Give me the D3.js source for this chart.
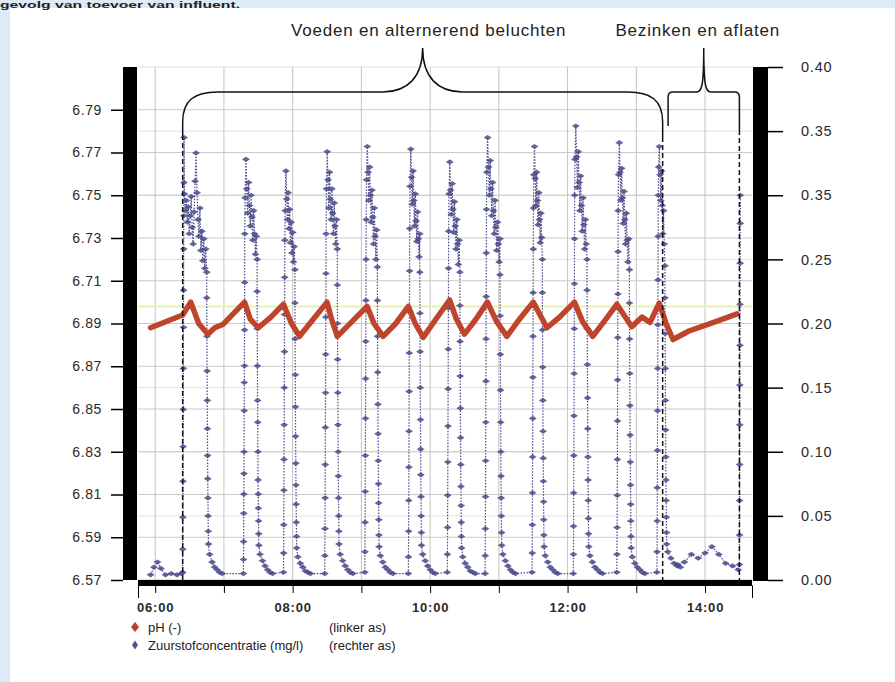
<!DOCTYPE html>
<html>
<head>
<meta charset="utf-8">
<script src="https://cdn.jsdelivr.net/npm/d3@7"></script>
<style>
  body { margin: 0; background: #dcebf7; }
  svg { display: block; font-family: "Liberation Sans", Arial, sans-serif; }
  .tick text { fill: #2a2a2a; }
</style>
</head>
<body>
<div id="chart"></div>
<script>
// ---- data ----
// pH (left axis)
const phTimes = ["05:56","06:24","06:31","06:38","06:46","06:52","06:59","07:18","07:23","07:30","07:41","07:52","07:59","08:06","08:18","08:30","08:34","08:39","08:52","09:05","09:11","09:19","09:30","09:41","09:47","09:54","10:05","10:17","10:23","10:30","10:40","10:50","10:58","11:07","11:18","11:30","11:36","11:42","11:53","12:06","12:13","12:22","12:32","12:43","12:56","13:05","13:12","13:20","13:26","13:32","13:46","14:10","14:28"];
const phValues = [6.688,6.694,6.700,6.690,6.685,6.688,6.6895,6.700,6.692,6.688,6.693,6.699,6.690,6.684,6.692,6.700,6.692,6.684,6.691,6.698,6.690,6.684,6.690,6.698,6.690,6.6835,6.692,6.701,6.692,6.685,6.692,6.700,6.691,6.684,6.692,6.700,6.694,6.688,6.693,6.700,6.691,6.684,6.691,6.699,6.6885,6.693,6.6905,6.6995,6.690,6.6825,6.6865,6.691,6.6945];

// oxygen (right axis): aeration cycles, start and stop of aeration
const o2Start = ["06:24","07:17","07:52","08:28","09:03","09:41","10:15","10:48","11:29","12:05","12:43","13:18"];
const o2Stop  = ["06:45","07:29","08:02","08:39","09:14","09:51","10:26","11:01","11:38","12:17","12:54","13:25"];
// logged values while rising, during aeration, while falling and the tail afterwards
const o2Rise = [
  [0.006,0.024,0.049,0.077,0.104,0.133,0.165,0.197,0.226,0.258,0.284,0.31,0.345],
  [0.005,0.016,0.03,0.052,0.067,0.083,0.1,0.132,0.154,0.167,0.195,0.232,0.27],
  [0.006,0.021,0.043,0.07,0.094,0.121,0.15,0.178,0.207,0.236,0.265],
  [0.005,0.019,0.04,0.064,0.09,0.119,0.146,0.176,0.205,0.239,0.27],
  [0.006,0.022,0.045,0.069,0.097,0.126,0.157,0.186,0.218,0.25,0.281],
  [0.005,0.018,0.038,0.062,0.088,0.116,0.147,0.177,0.209,0.241,0.274],
  [0.006,0.02,0.041,0.066,0.092,0.12,0.149,0.18,0.212,0.243,0.272],
  [0.005,0.019,0.04,0.065,0.093,0.123,0.155,0.188,0.221,0.255,0.289],
  [0.006,0.021,0.043,0.068,0.096,0.126,0.158,0.19,0.224,0.258,0.29],
  [0.005,0.02,0.042,0.068,0.097,0.128,0.161,0.196,0.231,0.266,0.3],
  [0.006,0.02,0.041,0.066,0.094,0.124,0.156,0.189,0.223,0.256,0.288],
  [0.006,0.022,0.046,0.072,0.101,0.132,0.165,0.199,0.234,0.268,0.3]
];
const o2Aer = [
  [0.301,0.288,0.296,0.279,0.291,0.27,0.284,0.299,0.275,0.262,0.287,0.311,0.333,0.302,0.281,0.268,0.29,0.257,0.272,0.249,0.266,0.243,0.258,0.24],
  [0.298,0.328,0.305,0.286,0.31,0.292,0.276,0.3,0.283,0.265,0.288,0.27,0.254,0.268,0.25],
  [0.288,0.319,0.297,0.281,0.302,0.274,0.289,0.263,0.279,0.255,0.271,0.248,0.26,0.242],
  [0.305,0.334,0.312,0.29,0.318,0.297,0.281,0.305,0.286,0.27,0.294,0.276,0.262,0.281,0.258],
  [0.312,0.338,0.318,0.296,0.322,0.3,0.279,0.304,0.283,0.262,0.29,0.268,0.25,0.273,0.244],
  [0.307,0.336,0.314,0.293,0.319,0.296,0.276,0.301,0.28,0.264,0.287,0.266,0.252,0.27],
  [0.301,0.326,0.304,0.285,0.309,0.289,0.271,0.295,0.276,0.258,0.281,0.262,0.246,0.265,0.24],
  [0.318,0.345,0.322,0.3,0.327,0.305,0.284,0.31,0.288,0.27,0.296,0.275,0.257,0.279,0.262,0.248,0.266],
  [0.316,0.338,0.313,0.292,0.318,0.296,0.277,0.302,0.281,0.263,0.286,0.267,0.25],
  [0.328,0.354,0.33,0.306,0.334,0.31,0.288,0.315,0.292,0.272,0.298,0.277,0.258,0.281,0.262,0.25],
  [0.316,0.341,0.318,0.296,0.321,0.298,0.278,0.303,0.281,0.262,0.286,0.265,0.248,0.266,0.242],
  [0.322,0.338,0.316,0.296,0.319,0.292,0.27,0.288,0.262,0.245]
];
const o2Fall = [
  [0.22,0.19,0.163,0.14,0.118,0.097,0.079,0.064,0.05,0.038,0.028],
  [0.225,0.196,0.167,0.14,0.123,0.1,0.078,0.067,0.056,0.046,0.036,0.027],
  [0.216,0.188,0.16,0.135,0.112,0.091,0.074,0.059,0.045,0.034,0.025],
  [0.23,0.2,0.172,0.146,0.121,0.1,0.081,0.064,0.05,0.038,0.028],
  [0.218,0.19,0.162,0.137,0.114,0.093,0.075,0.06,0.047,0.035,0.026],
  [0.24,0.208,0.178,0.15,0.125,0.102,0.082,0.065,0.05,0.037,0.027],
  [0.214,0.186,0.159,0.134,0.111,0.09,0.073,0.058,0.045,0.034,0.025],
  [0.238,0.206,0.176,0.148,0.123,0.1,0.081,0.064,0.05,0.037,0.027],
  [0.224,0.195,0.166,0.14,0.116,0.095,0.077,0.061,0.047,0.035,0.026],
  [0.226,0.196,0.168,0.142,0.118,0.096,0.078,0.062,0.048,0.036,0.026],
  [0.216,0.188,0.161,0.136,0.113,0.092,0.074,0.059,0.046,0.034,0.025],
  [0.22,0.192,0.165,0.14,0.117,0.096,0.078,0.062,0.049,0.037,0.028]
];
const o2Tail = [
  [0.02,0.014,0.01,0.008,0.006,0.005],
  [0.02,0.015,0.011,0.008,0.006,0.005],
  [0.018,0.013,0.01,0.007,0.006,0.005],
  [0.02,0.015,0.011,0.008,0.006,0.005],
  [0.019,0.014,0.01,0.008,0.006,0.005],
  [0.02,0.015,0.011,0.008,0.006,0.005],
  [0.018,0.013,0.01,0.007,0.006,0.005],
  [0.02,0.015,0.011,0.008,0.006,0.005],
  [0.019,0.014,0.01,0.008,0.006,0.005],
  [0.019,0.014,0.01,0.008,0.006,0.005],
  [0.018,0.013,0.01,0.008,0.006,0.005],
  [0.022,0.017,0.013,0.011,0.01]
];
// before the first cycle and during settling
const o2PreTimes = ["05:56","05:59","06:02","06:05","06:09","06:14","06:19","06:23"];
const o2PreValues = [0.004,0.01,0.014,0.009,0.004,0.005,0.004,0.005];
const o2PostTimes = ["13:36","13:42","13:48","13:54","14:00","14:06","14:12","14:18","14:24","14:29"];
const o2PostValues = [0.012,0.014,0.02,0.017,0.021,0.026,0.02,0.013,0.011,0.008];
const o2EndRiseTime = "14:30";
const o2EndRise = [0.012,0.035,0.062,0.09,0.121,0.152,0.183,0.215,0.247,0.278,0.3];

// axes
const timeDomain = ["05:45","14:41"];
const phDomain = [6.57, 6.81];
const phTicks = [6.57,6.59,6.61,6.63,6.65,6.67,6.69,6.71,6.73,6.75,6.77,6.79];
const phTickLabels = ["6.57","6.59","6.81","6.83","6.85","6.87","6.89","6.71","6.73","6.75","6.77","6.79"];
const o2Domain = [0, 0.40];
const o2Ticks = [0,0.05,0.10,0.15,0.20,0.25,0.30,0.35,0.40];
const o2TickLabels = ["0.00","0.05","0.10","0.15","0.20","0.25","0.35","0.35","0.40"];
const phRefLine = 6.698;

// phases (annotation braces)
const phases = [
  { label: "Voeden en alternerend beluchten", from: "06:24", to: "13:23" },
  { label: "Bezinken en aflaten", from: "13:26", to: "14:30" }
];
const legendItems = [
  { name: "pH (-)", axis: "(linker as)", color: "#bb3f2c" },
  { name: "Zuurstofconcentratie (mg/l)", axis: "(rechter as)", color: "#55548f" }
];

// ---- drawing ----
const width = 895, height = 682;
const parseTime = d3.timeParse("%H:%M");
const addMin = (d, m) => new Date(d.getTime() + m * 60000);

const svg = d3.select('#chart').append('svg')
    .attr('width', width)
    .attr('height', height);

svg.append('rect').attr('width', width).attr('height', height).attr('fill', '#dcebf7');
svg.append('rect').attr('x', 10).attr('y', 8).attr('width', width - 10).attr('height', height - 8).attr('fill', '#ffffff');

// caption left over from the page above
svg.append('text')
    .attr('x', 0).attr('y', 7.5)
    .attr('font-size', 9.5).attr('font-weight', 'bold').attr('fill', '#222')
    .attr('textLength', 240).attr('lengthAdjust', 'spacingAndGlyphs')
    .text('gevolg van toevoer van influent.');

const plotLeft = 138, plotRight = 752, plotTop = 67, plotBottom = 580;

const x = d3.scaleTime().domain(timeDomain.map(parseTime)).range([plotLeft, plotRight]);
const yPh = d3.scaleLinear().domain(phDomain).range([plotBottom, plotTop]);
const yO2 = d3.scaleLinear().domain(o2Domain).range([plotBottom, plotTop]);

// grid
const grid = svg.append('g');
grid.selectAll('.gr').data(o2Ticks).join('line')
    .attr('x1', plotLeft).attr('x2', plotRight)
    .attr('y1', d => yO2(d)).attr('y2', d => yO2(d))
    .attr('stroke', '#e2e2e2').attr('stroke-width', 1);
grid.selectAll('.gl').data(phTicks).join('line')
    .attr('x1', plotLeft).attr('x2', plotRight)
    .attr('y1', d => yPh(d)).attr('y2', d => yPh(d))
    .attr('stroke', '#c9c9c9').attr('stroke-width', 1);
grid.selectAll('.gv').data(x.ticks(d3.timeHour.every(1))).join('line')
    .attr('x1', d => x(d)).attr('x2', d => x(d))
    .attr('y1', plotTop).attr('y2', plotBottom)
    .attr('stroke', '#c4c4c4').attr('stroke-width', 1);
grid.append('line')
    .attr('x1', plotLeft).attr('x2', plotRight)
    .attr('y1', yPh(phRefLine)).attr('y2', yPh(phRefLine))
    .attr('stroke', '#e9f0b4').attr('stroke-width', 2);

// oxygen points
const o2Points = [];
o2PreTimes.forEach((t, i) => o2Points.push({ t: parseTime(t), v: o2PreValues[i] }));
o2Start.forEach((s, c) => {
    const start = parseTime(s), stop = parseTime(o2Stop[c]);
    const aerLen = (stop - start) / 60000 - 1.5;
    o2Rise[c].forEach((v, i) => o2Points.push({ t: addMin(start, 1.2 * i / (o2Rise[c].length - 1)), v }));
    o2Aer[c].forEach((v, i) => o2Points.push({ t: addMin(start, 1.5 + aerLen * i / (o2Aer[c].length - 1)), v }));
    o2Fall[c].forEach((v, i) => o2Points.push({ t: addMin(stop, 1.5 * i / (o2Fall[c].length - 1)), v }));
    o2Tail[c].forEach((v, i) => o2Points.push({ t: addMin(stop, 2.5 + 11 * i / (o2Tail[c].length - 1)), v }));
});
o2PostTimes.forEach((t, i) => o2Points.push({ t: parseTime(t), v: o2PostValues[i] }));
o2EndRise.forEach((v, i) => o2Points.push({ t: addMin(parseTime(o2EndRiseTime), 0.8 * i / (o2EndRise.length - 1)), v }));

const o2Color = '#4b4a8a';
const o2Line = d3.line().x(d => x(d.t)).y(d => yO2(d.v));
svg.append('path')
    .datum(o2Points)
    .attr('d', o2Line)
    .attr('fill', 'none')
    .attr('stroke', o2Color)
    .attr('stroke-width', 1.2)
    .attr('stroke-dasharray', '1.5,1.5');
svg.append('g').selectAll('path').data(o2Points).join('path')
    .attr('d', 'M-4,0L0,-2.6L4,0L0,2.6Z')
    .attr('transform', d => `translate(${x(d.t)},${yO2(d.v)})`)
    .attr('fill', o2Color)
    .attr('opacity', 0.85);

// pH line
const phData = phTimes.map((t, i) => ({ t: parseTime(t), v: phValues[i] }));
svg.append('path')
    .datum(phData)
    .attr('d', d3.line().x(d => x(d.t)).y(d => yPh(d.v)))
    .attr('fill', 'none')
    .attr('stroke', '#bf442c')
    .attr('stroke-width', 5.5)
    .attr('stroke-linejoin', 'round')
    .attr('stroke-linecap', 'round');

// phase braces and dashed separators
const braceY = 92, tipY = 48;
const ann = svg.append('g').attr('fill', 'none').attr('stroke', '#111').attr('stroke-width', 1.5);
const xa = x(parseTime(phases[0].from)), xb = x(parseTime(phases[0].to)), xm = (xa + xb) / 2;
ann.append('path').attr('d',
    `M${xa},135 L${xa},${braceY + 30} C${xa},${braceY + 8} ${xa + 12},${braceY} ${xa + 35},${braceY}` +
    ` L${xm - 40},${braceY} C${xm - 15},${braceY} ${xm},${braceY - 15} ${xm},${tipY}` +
    ` C${xm},${braceY - 15} ${xm + 15},${braceY} ${xm + 40},${braceY}` +
    ` L${xb - 35},${braceY} C${xb - 12},${braceY} ${xb},${braceY + 8} ${xb},${braceY + 30} L${xb},137`);
const xc = x(parseTime(phases[1].from)) + 2, xd = x(parseTime(phases[1].to)), xn = (xc + xd) / 2;
ann.append('path').attr('d',
    `M${xc},126 L${xc},${braceY + 5} Q${xc},${braceY} ${xc + 5},${braceY}` +
    ` L${xn - 7},${braceY} C${xn - 2},${braceY} ${xn},${braceY - 6} ${xn},${tipY}` +
    ` C${xn},${braceY - 6} ${xn + 2},${braceY} ${xn + 7},${braceY}` +
    ` L${xd - 5},${braceY} Q${xd},${braceY} ${xd},${braceY + 5} L${xd},130`);
[[xa, 135], [xb, 137], [xd, 130]].forEach(([px, top]) => {
    ann.append('line').attr('x1', px).attr('x2', px).attr('y1', top).attr('y2', plotBottom)
        .attr('stroke-dasharray', '5,3');
});
phases.forEach((p, i) => {
    const cx = i === 0 ? xm + 6 : xn - 6;
    svg.append('text')
        .attr('x', cx).attr('y', 36)
        .attr('text-anchor', 'middle')
        .attr('font-size', 17)
        .attr('letter-spacing', 0.8)
        .attr('fill', '#222')
        .text(p.label);
});

// black frame bars
svg.append('rect').attr('x', 123).attr('y', plotTop).attr('width', 14).attr('height', plotBottom - plotTop).attr('fill', '#000');
svg.append('rect').attr('x', 753).attr('y', plotTop).attr('width', 15).attr('height', plotBottom - plotTop + 1).attr('fill', '#000');
svg.append('rect').attr('x', plotLeft).attr('y', plotBottom).attr('width', plotRight - plotLeft).attr('height', 6).attr('fill', '#000');

// axes
const xAxis = d3.axisBottom(x)
    .ticks(d3.timeHour.every(1))
    .tickSize(8)
    .tickSizeOuter(13)
    .tickFormat(d => d.getHours() % 2 === 0 ? d3.timeFormat('%H:%M')(d) : '');
const gx = svg.append('g').attr('transform', `translate(0,${plotBottom + 5})`).call(xAxis);
gx.selectAll('text').attr('font-size', 13).attr('font-weight', 'bold').attr('letter-spacing', 0.8).attr('dy', '1.2em');

const yLeft = d3.axisLeft(yPh).tickValues(phTicks).tickSize(12).tickSizeOuter(0)
    .tickFormat((d, i) => phTickLabels[i]);
const gl = svg.append('g').attr('transform', 'translate(123,0)').call(yLeft);
gl.select('.domain').remove();
gl.selectAll('text').attr('font-size', 14).attr('letter-spacing', 0.6).attr('x', -21);
gl.selectAll('line').attr('stroke-width', 1.5);

const yRight = d3.axisRight(yO2).tickValues(o2Ticks).tickSize(15).tickSizeOuter(0)
    .tickFormat((d, i) => o2TickLabels[i]);
const gr = svg.append('g').attr('transform', 'translate(768,0)').call(yRight);
gr.select('.domain').remove();
gr.selectAll('text').attr('font-size', 14.5).attr('letter-spacing', 0.8).attr('x', 33);
gr.selectAll('line').attr('stroke-width', 1.5);

// legend
const legend = svg.append('g').attr('transform', 'translate(135,627)');
legendItems.forEach((d, i) => {
    const row = legend.append('g').attr('transform', `translate(0,${i * 18})`);
    row.append('path')
        .attr('d', i === 0 ? 'M0,-5L4,0L0,5L-4,0Z' : 'M0,-4.5L3,0L0,4.5L-3,0Z')
        .attr('fill', d.color);
    row.append('text').attr('x', 13).attr('y', 5).attr('font-size', 13).attr('fill', '#222').text(d.name);
    row.append('text').attr('x', 194).attr('y', 5).attr('font-size', 13).attr('fill', '#222').text(d.axis);
});
</script>
</body>
</html>
